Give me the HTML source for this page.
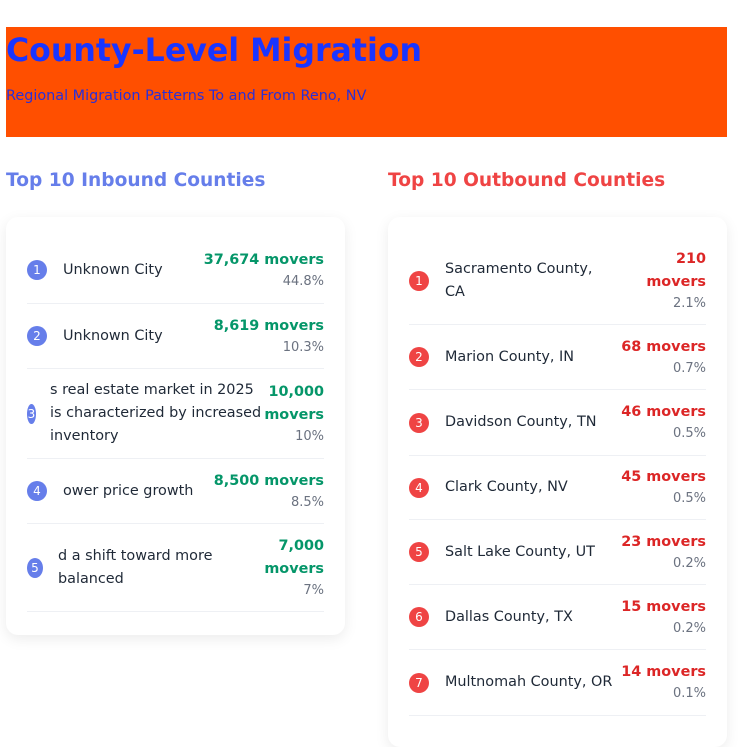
<!DOCTYPE html>
<html><head><meta charset="utf-8"><style>
*{box-sizing:border-box;margin:0;padding:0}
body{width:747px;height:725px;overflow:hidden;background:#fff;font-family:"DejaVu Sans","Liberation Sans",sans-serif;position:relative;color:#1f2937}
.hdr{position:absolute;left:6px;top:27px;width:721px;height:110px;background:#ff4f00}
.hdr h1{position:absolute;left:0;top:6px;font-size:31.6px;color:#1a35ff;font-weight:bold}
.hdr p{position:absolute;left:0;top:61px;font-size:14.4px;color:#2a2fd8}
h2{position:absolute;top:170px;font-size:18.6px;font-weight:bold}
.card{position:absolute;top:217px;width:339px;background:#fff;border-radius:12px;box-shadow:0 4px 14px rgba(0,0,0,0.08)}
.row{position:absolute;left:21px;right:21px;display:flex;align-items:center;border-bottom:1px solid #eef0f4}
.num{flex:0 0 auto;width:20px;height:20px;border-radius:50%;color:#fff;font-size:12px;display:flex;align-items:center;justify-content:center}
.name{flex:1;font-size:14.4px;line-height:23px;padding-left:16px}
.val{text-align:right;flex:0 0 auto}
.val b{display:block;font-size:14.4px;line-height:23px}
.val span{display:block;font-size:13px;color:#6b7280;line-height:20px}
.in .num{background:#667eea}.in b{color:#059669}
.out .num{background:#ef4444}.out b{color:#dc2626}
</style></head><body>
<div class="hdr">
<h1>County-Level Migration</h1>
<p>Regional Migration Patterns To and From Reno, NV</p>
</div>
<h2 style="left:6px;color:#667eea">Top 10 Inbound Counties</h2>
<h2 style="left:388px;color:#ef4444">Top 10 Outbound Counties</h2>
<div class="card in" style="left:6px;height:418px">
<div class="row" style="top:20px;height:67px"><div class="num">1</div><div class="name">Unknown City</div><div class="val"><b>37,674 movers</b><span>44.8%</span></div></div>
<div class="row" style="top:87px;height:65px"><div class="num">2</div><div class="name">Unknown City</div><div class="val"><b>8,619 movers</b><span>10.3%</span></div></div>
<div class="row" style="top:152px;height:90px"><div class="num" style="width:9px">3</div><div class="name" style="padding-left:14px;flex:0 0 226px">s real estate market in 2025 is characterized by increased inventory</div><div class="val" style="flex:1"><b>10,000 movers</b><span>10%</span></div></div>
<div class="row" style="top:242px;height:65px"><div class="num">4</div><div class="name">ower price growth</div><div class="val"><b>8,500 movers</b><span>8.5%</span></div></div>
<div class="row" style="top:307px;height:88px"><div class="num" style="width:16px">5</div><div class="name" style="padding-left:15px">d a shift toward more<br>balanced</div><div class="val" style="width:70px"><b>7,000 movers</b><span>7%</span></div></div>
</div>
<div class="card out" style="left:388px;height:530px">
<div class="row" style="top:20px;height:88px"><div class="num">1</div><div class="name">Sacramento County,<br>CA</div><div class="val" style="width:64px"><b>210 movers</b><span>2.1%</span></div></div>
<div class="row" style="top:108px;height:65px"><div class="num">2</div><div class="name">Marion County, IN</div><div class="val"><b>68 movers</b><span>0.7%</span></div></div>
<div class="row" style="top:173px;height:66px"><div class="num">3</div><div class="name">Davidson County, TN</div><div class="val"><b>46 movers</b><span>0.5%</span></div></div>
<div class="row" style="top:239px;height:64px"><div class="num">4</div><div class="name">Clark County, NV</div><div class="val"><b>45 movers</b><span>0.5%</span></div></div>
<div class="row" style="top:303px;height:65px"><div class="num">5</div><div class="name">Salt Lake County, UT</div><div class="val"><b>23 movers</b><span>0.2%</span></div></div>
<div class="row" style="top:368px;height:65px"><div class="num">6</div><div class="name">Dallas County, TX</div><div class="val"><b>15 movers</b><span>0.2%</span></div></div>
<div class="row" style="top:433px;height:66px"><div class="num">7</div><div class="name" style="white-space:nowrap">Multnomah County, OR</div><div class="val"><b>14 movers</b><span>0.1%</span></div></div>
</div>
</body></html>
